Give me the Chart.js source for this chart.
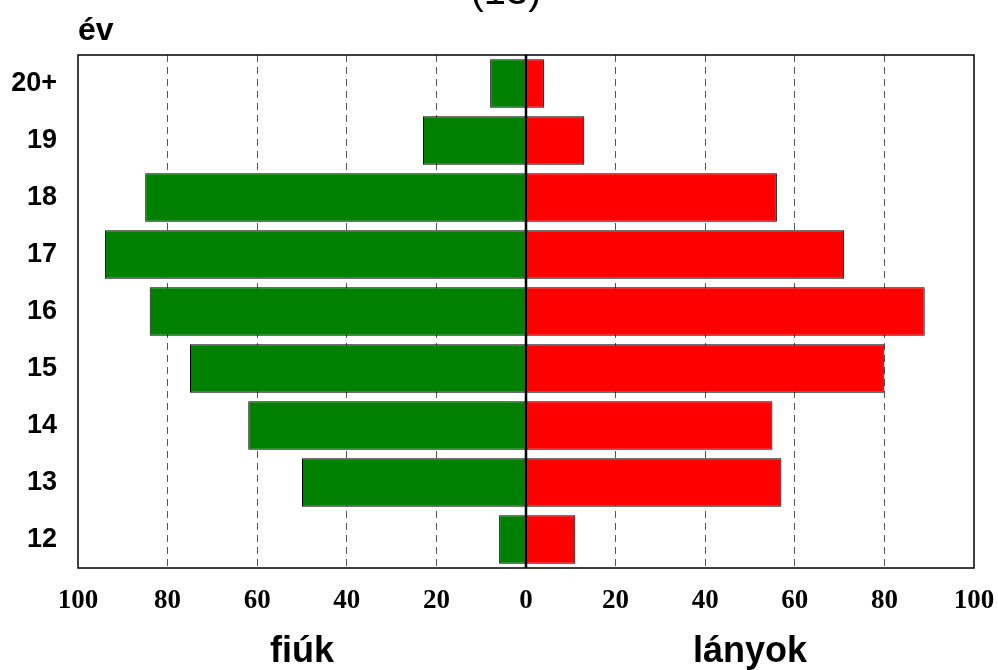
<!DOCTYPE html>
<html>
<head>
<meta charset="utf-8">
<script src="https://cdn.jsdelivr.net/npm/chart.js@4/dist/chart.umd.min.js"></script>
<style>
  html, body { margin: 0; padding: 0; background: #fff; }
  #wrap { width: 998px; height: 670px; }
</style>
</head>
<body>
<div id="wrap"><canvas id="myChart" width="998" height="670"></canvas></div>
<script>
// korcsoportok (felülről lefelé)
const korok = ["20+", "19", "18", "17", "16", "15", "14", "13", "12"];
const fiuk = [8, 23, 85, 94, 84, 75, 62, 50, 6];
const lanyok = [4, 13, 56, 71, 89, 80, 55, 57, 11];
const xTicks = [-100, -80, -60, -40, -20, 0, 20, 40, 60, 80, 100];
const cim = "(13)";
const yCim = "év";
const bal = "fiúk";
const jobb = "lányok";

const feliratok = {
  id: "feliratok",
  afterDatasetsDraw(chart) {
    const ctx = chart.ctx;
    const a = chart.chartArea;
    const x = chart.scales.x;
    ctx.save();
    // nulla vonal
    ctx.strokeStyle = "#000";
    ctx.lineWidth = 2.5;
    ctx.beginPath();
    ctx.moveTo(x.getPixelForValue(0), a.top);
    ctx.lineTo(x.getPixelForValue(0), a.bottom);
    ctx.stroke();
    // keret
    ctx.lineWidth = 1.5;
    ctx.strokeRect(a.left, a.top, a.right - a.left, a.bottom - a.top);
    ctx.restore();
  },
  afterDraw(chart) {
    const ctx = chart.ctx;
    const a = chart.chartArea;
    const x = chart.scales.x;
    ctx.save();
    ctx.fillStyle = "#000";
    ctx.textBaseline = "alphabetic";
    ctx.textAlign = "center";
    ctx.font = "40px 'Liberation Sans', Arial, sans-serif";
    ctx.fillText(cim, 506, 4);
    ctx.textAlign = "left";
    ctx.font = "bold 32px 'Liberation Sans', Arial, sans-serif";
    ctx.fillText(yCim, a.left, 40);
    ctx.textAlign = "center";
    ctx.font = "bold 36px 'Liberation Sans', Arial, sans-serif";
    ctx.fillText(bal, x.getPixelForValue(-50), 662);
    ctx.fillText(jobb, x.getPixelForValue(50), 662);
    ctx.restore();
  }
};

const ctx = document.getElementById("myChart").getContext("2d");
const myChart = new Chart(ctx, {
  type: "bar",
  data: {
    labels: korok,
    datasets: [
      {
        label: bal,
        data: fiuk.map((v) => -v),
        backgroundColor: "#008000",
        borderColor: "#000",
        borderWidth: 1,
        borderSkipped: false,
        barPercentage: 0.85,
        categoryPercentage: 1,
      },
      {
        label: jobb,
        data: lanyok,
        backgroundColor: "#ff0000",
        borderColor: "#000",
        borderWidth: 1,
        borderSkipped: false,
        barPercentage: 0.85,
        categoryPercentage: 1,
      },
    ],
  },
  options: {
    indexAxis: "y",
    responsive: false,
    animation: false,
    layout: { padding: { top: 55, right: 24, bottom: 0, left: 0 } },
    plugins: {
      legend: { display: false },
      tooltip: { enabled: false },
      title: { display: false },
    },
    scales: {
      x: {
        stacked: true,
        min: -100,
        max: 100,
        afterBuildTicks: (s) => {
          s.ticks = xTicks.map((v) => ({ value: v }));
        },
        afterFit: (s) => {
          s.height = 102;
          s.paddingLeft = 0;
          s.paddingRight = 0;
        },
        grid: {
          drawTicks: false,
          color: (c) =>
            c.tick && (c.tick.value === 0 || Math.abs(c.tick.value) === 100)
              ? "rgba(0,0,0,0)"
              : "#555",
          lineWidth: 1,
        },
        border: { display: false, dash: [7, 5] },
        ticks: {
          callback: (v) => Math.abs(v),
          color: "#000",
          padding: 17,
          maxRotation: 0,
          font: { family: "'Liberation Serif', 'Times New Roman', serif", size: 27, weight: "bold" },
        },
      },
      y: {
        stacked: true,
        afterFit: (s) => {
          s.width = 78;
        },
        grid: { display: false, drawTicks: false },
        border: { display: false },
        ticks: {
          color: "#000",
          padding: 21,
          font: { family: "'Liberation Sans', Arial, sans-serif", size: 27, weight: "bold" },
        },
      },
    },
  },
  plugins: [feliratok],
});
</script>
</body>
</html>
